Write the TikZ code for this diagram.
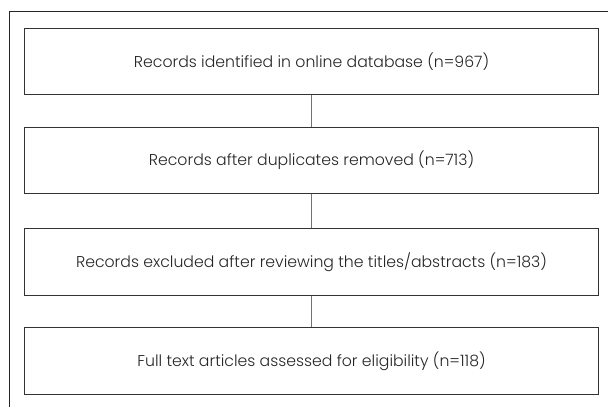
\documentclass[tikz,border=0pt]{standalone}
\usepackage{fontspec}
\setmainfont{Poppins}[UprightFont=* Light]
\begin{document}
\begin{tikzpicture}[x=1pt,y=-1pt,
  stepbox/.style={draw=black!80, line width=0.9pt, minimum width=574pt, minimum height=66.5pt,
    inner sep=0pt, text=black!85, font=\fontsize{15.7}{18}\selectfont},
  link/.style={draw=black!55, line width=1.3pt}]
\useasboundingbox (0,0) rectangle (608,407);
% outer frame (only top and left edges visible)
\draw[black!85, line width=0.9pt] (9.5,407) -- (9.5,11.5) -- (608,11.5);
% process boxes
\node[stepbox] (b1) at (311.5,61.5) {Records identified in online database (n=967)};
\node[stepbox] (b2) at (311.5,160.5) {Records after duplicates removed (n=713)};
\node[stepbox] (b3) at (311.5,262) {Records excluded after reviewing the titles/abstracts (n=183)};
\node[stepbox] (b4) at (311.5,361) {Full text articles assessed for eligibility (n=118)};
% connectors
\draw[link] (b1.south) -- (b2.north);
\draw[link] (b2.south) -- (b3.north);
\draw[link] (b3.south) -- (b4.north);
\end{tikzpicture}
\end{document}
